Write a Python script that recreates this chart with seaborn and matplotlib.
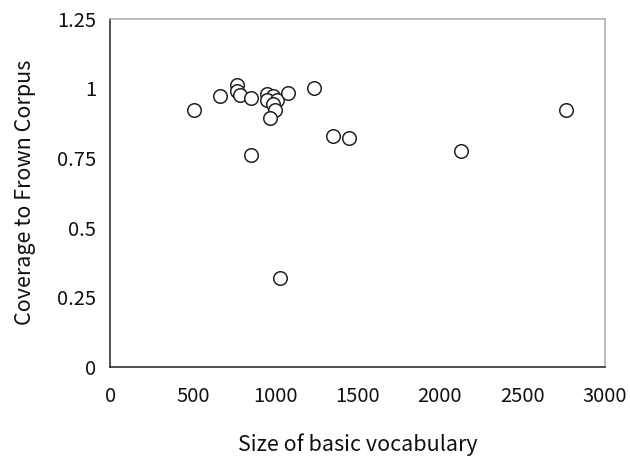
import matplotlib
matplotlib.use("Agg")
import matplotlib.pyplot as plt
import seaborn as sns
import pandas as pd

vocab_size = [506, 664, 771, 766, 790, 851, 851, 948, 990, 953, 1014, 990, 997, 968,
              1080, 1233, 1352, 1447, 1028, 2125, 2764]
coverage = [0.922, 0.971, 1.014, 0.992, 0.976, 0.967, 0.759, 0.979, 0.974, 0.958, 0.958,
            0.943, 0.922, 0.893, 0.984, 1.002, 0.829, 0.821, 0.320, 0.776, 0.922]
x_ticks = [0, 500, 1000, 1500, 2000, 2500, 3000]
y_ticks = [0, 0.25, 0.5, 0.75, 1, 1.25]
y_tick_labels = ["0", "0.25", "0.5", "0.75", "1", "1.25"]

df = pd.DataFrame({"size": vocab_size, "coverage": coverage})

sns.set_style("white")
plt.rcParams["font.family"] = ["Noto Sans CJK JP", "DejaVu Sans"]

fig = plt.figure(figsize=(6.3, 4.59), dpi=100)
ax = fig.add_axes([0.175, 0.201, 0.785, 0.758])

sns.scatterplot(data=df, x="size", y="coverage", ax=ax, s=95, marker="o",
                facecolor="white", edgecolor="#222222", linewidth=1.1, zorder=3)

ax.set_xlim(0, 3000)
ax.set_ylim(0, 1.25)
ax.set_xticks(x_ticks)
ax.set_xticklabels([str(t) for t in x_ticks])
ax.set_yticks(y_ticks)
ax.set_yticklabels(y_tick_labels)
ax.tick_params(direction="in", length=5.5, width=1, color="#222222",
               labelsize=14.5, labelcolor="#111111", pad=14)
ax.tick_params(axis="y", pad=10)
for side in ["left", "bottom"]:
    ax.spines[side].set_color("#222222")
    ax.spines[side].set_linewidth(1.1)
for side in ["top", "right"]:
    ax.spines[side].set_color("#aaaaaa")
    ax.spines[side].set_linewidth(1.1)

ax.set_xlabel("Size of basic vocabulary", fontsize=15.5, color="#111111", labelpad=19)
ax.set_ylabel("Coverage to Frown Corpus", fontsize=15.5, color="#111111", labelpad=15)

fig.savefig("out.png", dpi=100)
